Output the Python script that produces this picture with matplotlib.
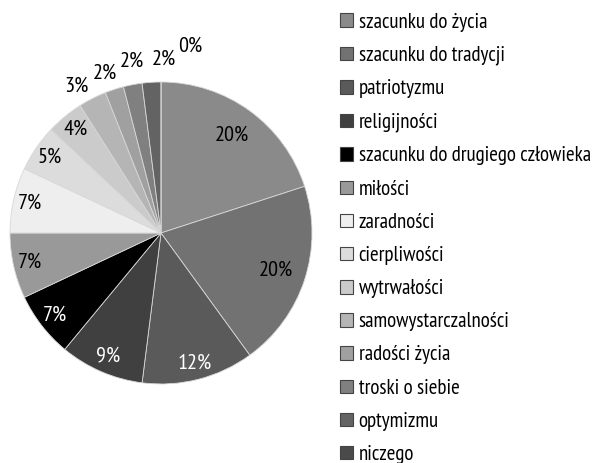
import matplotlib
matplotlib.use('Agg')
import matplotlib.pyplot as plt
from matplotlib.patches import Patch
import numpy as np

# --- dane ---
categories = ['szacunku do życia', 'szacunku do tradycji', 'patriotyzmu',
              'religijności', 'szacunku do drugiego człowieka', 'miłości',
              'zaradności', 'cierpliwości', 'wytrwałości',
              'samowystarczalności', 'radości życia', 'troski o siebie',
              'optymizmu', 'niczego']
values = [20, 20, 12, 9, 7, 7, 7, 5, 4, 3, 2, 2, 2, 0]

colors = ['#8a8a8a', '#727272', '#5a5a5a', '#404040', '#000000', '#999999',
          '#eeeeee', '#dcdcdc', '#cbcbcb', '#b5b5b5', '#a0a0a0', '#808080',
          '#636363', '#4a4a4a']

plt.rcParams['font.family'] = ['PT Sans Narrow', 'DejaVu Sans']

fig = plt.figure(figsize=(6.05, 4.63), dpi=100)
ax = fig.add_axes([10 / 605, 79 / 463, 302 / 605, 302 / 463])

wedges, _ = ax.pie(values, colors=colors, startangle=90, counterclock=False,
                   radius=1, wedgeprops=dict(edgecolor='#d8d8d8', linewidth=0.6))
ax.set_xlim(-1, 1)
ax.set_ylim(-1, 1)
ax.axis('off')

# etykiety procentowe
outside = []
for w, v in zip(wedges, values):
    mid = np.deg2rad((w.theta1 + w.theta2) / 2)
    if v >= 4:
        r = 0.8 if v >= 15 else 0.89
        gray = int(w.get_facecolor()[0] * 255)
        col = 'white' if gray < 0x60 else 'black'
        ax.text(r * np.cos(mid), r * np.sin(mid), f'{v}%', ha='center',
                va='center', fontsize=16, color=col)
    else:
        outside.append(v)

# małe wycinki - etykiety na zewnątrz, rozsunięte
out_ang = [120, 109.5, 99.5, 89, 81]
out_rad = [1.12, 1.12, 1.15, 1.15, 1.25]
for v, a, r in zip(outside, out_ang, out_rad):
    t = np.deg2rad(a)
    ax.text(r * np.cos(t), r * np.sin(t), f'{v}%', ha='center', va='center',
            fontsize=16, color='black')

handles = [Patch(facecolor=c, edgecolor='#444444', linewidth=0.8) for c in colors]
fig.legend(handles, categories, loc='upper left', bbox_to_anchor=(328 / 605, 1.0),
           frameon=False, fontsize=15, handlelength=0.62, handleheight=0.62,
           handletextpad=0.25, labelspacing=0.68, borderaxespad=0.2)

fig.savefig('out.png', dpi=100)
